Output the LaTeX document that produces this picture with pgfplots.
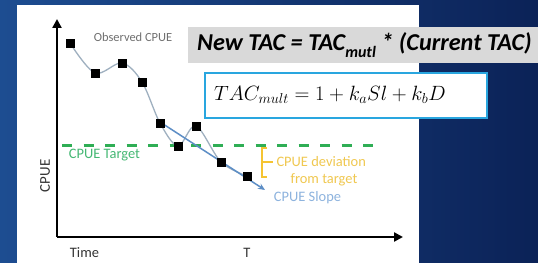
\documentclass[border=0pt]{standalone}
\usepackage{fontspec}
\setmainfont{Carlito}
\usepackage{pgfplots}
\pgfplotsset{compat=1.18}
\usepackage{pgfplotstable}
\usetikzlibrary{arrows.meta}
\definecolor{bgL}{HTML}{1D4D91}
\definecolor{bgR}{HTML}{0B2257}
\definecolor{boxgray}{HTML}{D9D9D9}
\definecolor{fborder}{HTML}{29A6DF}
\definecolor{tgreen}{HTML}{2FAE55}
\definecolor{tgreentext}{HTML}{45B874}
\definecolor{gold}{HTML}{F5C432}
\definecolor{goldtext}{HTML}{F0C850}
\definecolor{slopetext}{HTML}{8DB3DE}
\definecolor{slopearrow}{HTML}{5D8EC6}
\definecolor{curve}{HTML}{9FB0C0}
\definecolor{obsgray}{HTML}{707070}
\definecolor{labgray}{HTML}{333333}

% observed CPUE (time, CPUE)
\pgfplotstableread{
t cpue
13 194
38 164
65 174
85 155
103 114
121 91
139 111
164 75
190 61
}\obs
\begin{document}
\begin{tikzpicture}
\begin{axis}[
  width=538bp, height=263bp, scale only axis,
  xmin=-57, xmax=481, ymin=-26, ymax=237,
  hide axis, clip=false]
% background and panels
\shade[left color=bgL, right color=bgR] (-57,-26) rectangle (481,237);
\fill[white] (-40,-26) rectangle (362,232);
\fill[boxgray] (131,174) rectangle (481,210);
\filldraw[fill=white, draw=fborder, line width=2.5bp] (148,119) rectangle (430,164);
% axes
\draw[line width=2.8bp, -{Triangle[length=9bp,width=9bp]}] (0,0) -- (0,218);
\draw[line width=2.8bp, -{Triangle[length=9bp,width=9bp]}] (0,0) -- (346,0);
% target line
\addplot[tgreen, line width=3bp, dash pattern=on 10bp off 11.5bp] coordinates {(5,91) (318,91)};
% observed curve
\addplot[curve, line width=1.3bp, smooth, tension=0.55] table[x=t,y=cpue] {\obs};
% slope arrow
\addplot[slopearrow, line width=1.5bp, -{Stealth[length=7bp,width=6bp]}] coordinates {(103,115) (208,47)};
\addplot[only marks, mark=square*, mark size=4.2pt, black] table[x=t,y=cpue] {\obs};
% deviation bracket
\addplot[gold, line width=1.8bp] coordinates {(210,89) (205,89) (205,60) (210,60)};
\addplot[gold, line width=1.8bp] coordinates {(205,75) (216,75)};
% labels
\node[obsgray, font=\fontsize{12.5}{12.5}\selectfont] at (76,200) {Observed CPUE};
\node[tgreentext, font=\fontsize{14.5}{14.5}\selectfont] at (47.5,82) {CPUE Target};
\node[goldtext, font=\fontsize{14.5}{14.5}\selectfont, anchor=west] at (216,75) {CPUE deviation};
\node[goldtext, font=\fontsize{14.5}{14.5}\selectfont] at (267,57) {from target};
\node[slopetext, font=\fontsize{14.5}{14.5}\selectfont] at (250.5,39) {CPUE Slope};
\node[labgray, font=\fontsize{15}{15}\selectfont, rotate=90] at (-12,61) {CPUE};
\node[labgray, font=\fontsize{14.5}{14.5}\selectfont] at (27.5,-16) {Time};
\node[labgray, font=\fontsize{14.5}{14.5}\selectfont] at (190,-16) {T};
% title
\node[anchor=west, inner sep=0pt, font=\fontsize{24.3}{24.3}\selectfont\bfseries\itshape] at (140,192)
  {New TAC = TAC\raisebox{-0.28em}{\fontsize{16}{16}\selectfont mutl} * (Current TAC)};
\node[anchor=west, inner sep=0pt, font=\fontsize{19.2}{19.2}\selectfont] at (157,142)
  {$TAC_{mult} = 1 + k_aSl + k_bD$};
\end{axis}
\end{tikzpicture}
\end{document}
